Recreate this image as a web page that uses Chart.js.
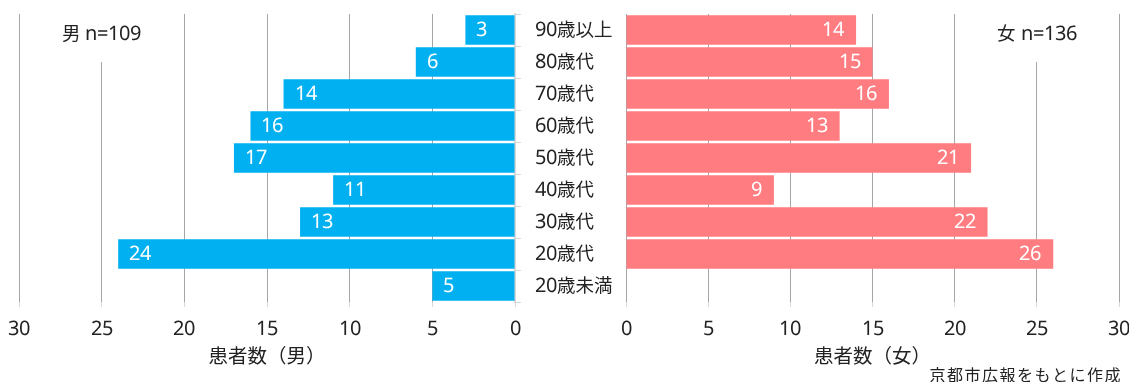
<!DOCTYPE html>
<html lang="ja">
<head>
<meta charset="utf-8">
<script src="https://cdn.jsdelivr.net/npm/chart.js@4.4.1/dist/chart.umd.min.js"></script>
<style>
  @font-face {
    font-family: 'MixLatin';
    src: local('Noto Sans'), local('Noto Sans Regular'), local('NotoSans-Regular');
    size-adjust: 108%;
  }
  html, body { margin: 0; padding: 0; background: #fff; }
  body { width: 1129px; height: 382px; position: relative; overflow: hidden; }
  .box { position: absolute; top: 0; height: 382px; }
  #leftBox { left: 0; width: 626px; }
  #rightBox { left: 600px; width: 541px; }
</style>
</head>
<body>
<div class="box" id="leftBox"><canvas id="maleChart"></canvas></div>
<div class="box" id="rightBox"><canvas id="femaleChart"></canvas></div>
<script>
const ageGroups = ['90歳以上', '80歳代', '70歳代', '60歳代', '50歳代', '40歳代', '30歳代', '20歳代', '20歳未満'];
const maleCounts = [3, 6, 14, 16, 17, 11, 13, 24, 5];
const femaleCounts = [14, 15, 16, 13, 21, 9, 22, 26, 0];
const axisTicks = [0, 5, 10, 15, 20, 25, 30];
const maleTitle = '患者数（男）';
const femaleTitle = '患者数（女）';
const maleNote = '男 n=109';
const femaleNote = '女 n=136';
const sourceNote = '京都市広報をもとに作成';

const FONT = '"MixLatin", "Noto Sans CJK JP", sans-serif';
const SIZE = 18.5;
const TEXT = '#222222';
const GRID = '#a6a6a6';
const LIGHT = '#d9d9d9';

// value labels inside the bar ends
const barValues = {
  id: 'barValues',
  afterDatasetsDraw(chart, args, opts) {
    const ctx = chart.ctx;
    const meta = chart.getDatasetMeta(0);
    const values = chart.data.datasets[0].data;
    ctx.save();
    ctx.font = SIZE + 'px ' + FONT;
    ctx.fillStyle = '#ffffff';
    ctx.textBaseline = 'middle';
    ctx.textAlign = opts.side;
    meta.data.forEach((bar, i) => {
      if (!values[i]) return;
      const x = opts.side === 'left' ? bar.x + 11 : bar.x - 12;
      ctx.fillText(String(values[i]), x, bar.y);
    });
    ctx.restore();
  }
};

// "n=" note with white box over the gridline, plus the source line
const notes = {
  id: 'notes',
  afterDatasetsDraw(chart, args, opts) {
    const ctx = chart.ctx;
    const x = chart.scales.x.getPixelForValue(opts.at);
    const top = chart.chartArea.top;
    ctx.save();
    ctx.fillStyle = '#ffffff';
    ctx.fillRect(x - 52, top - 1, 104, 49);
    ctx.font = SIZE + 'px ' + FONT;
    ctx.fillStyle = TEXT;
    ctx.textBaseline = 'middle';
    ctx.textAlign = 'center';
    ctx.fillText(opts.text, x, 34);
    if (opts.source) {
      ctx.font = '16px "Noto Sans CJK JP", sans-serif';
      if ('letterSpacing' in ctx) ctx.letterSpacing = '1.5px';
      ctx.textAlign = 'right';
      ctx.fillText(opts.source, chart.chartArea.right + 3, 375);
    }
    ctx.restore();
  }
};

function xScale(reverse, title) {
  return {
    type: 'linear',
    reverse: reverse,
    min: 0,
    max: 30,
    afterBuildTicks: (s) => { s.ticks = axisTicks.map(v => ({ value: v })); },
    afterFit: (s) => { s.height = 80; },
    ticks: { padding: 11, color: TEXT, font: { size: SIZE } },
    grid: {
      color: (c) => (reverse && c.tick && c.tick.value === 0) ? 'rgba(0,0,0,0)' : GRID,
      lineWidth: 1,
      tickColor: LIGHT,
      tickLength: 5
    },
    border: { display: false },
    title: {
      display: true,
      text: title,
      color: TEXT,
      font: { size: 19.5 },
      padding: { top: 0, bottom: 13.3 }
    }
  };
}

function draw() {
  Chart.defaults.font.family = FONT;
  Chart.defaults.font.size = SIZE;
  Chart.defaults.color = TEXT;

  new Chart(document.getElementById('maleChart'), {
    type: 'bar',
    data: {
      labels: ageGroups,
      datasets: [{
        label: '男',
        data: maleCounts,
        backgroundColor: '#00b0f0',
        borderWidth: 0,
        barPercentage: 0.92,
        categoryPercentage: 1
      }]
    },
    options: {
      indexAxis: 'y',
      responsive: true,
      maintainAspectRatio: false,
      animation: false,
      layout: { padding: { left: 19, right: 0, top: 14, bottom: 0 } },
      plugins: {
        legend: { display: false },
        tooltip: { enabled: false },
        barValues: { side: 'left' },
        notes: { at: 25, text: maleNote }
      },
      scales: {
        x: xScale(true, maleTitle),
        y: {
          position: 'right',
          afterFit: (s) => { s.width = 111; s.paddingTop = 0; s.paddingBottom = 0; },
          ticks: { crossAlign: 'near', padding: 14, color: TEXT, font: { size: SIZE } },
          grid: { drawOnChartArea: false, drawTicks: true, tickLength: 6, color: LIGHT },
          border: { display: true, color: LIGHT, width: 2 }
        }
      }
    },
    plugins: [barValues, notes]
  });

  new Chart(document.getElementById('femaleChart'), {
    type: 'bar',
    data: {
      labels: ageGroups,
      datasets: [{
        label: '女',
        data: femaleCounts,
        backgroundColor: '#ff7c80',
        borderWidth: 0,
        barPercentage: 0.92,
        categoryPercentage: 1
      }]
    },
    options: {
      indexAxis: 'y',
      responsive: true,
      maintainAspectRatio: false,
      animation: false,
      layout: { padding: { left: 26, right: 11, top: 14, bottom: 0 } },
      plugins: {
        legend: { display: false },
        tooltip: { enabled: false },
        barValues: { side: 'right' },
        notes: { at: 25, text: femaleNote, source: sourceNote }
      },
      scales: {
        x: xScale(false, femaleTitle),
        y: { display: false }
      }
    },
    plugins: [barValues, notes]
  });
}

Promise.all([
  document.fonts.load(SIZE + 'px MixLatin', '0123456789n='),
  document.fonts.load(SIZE + 'px "Noto Sans CJK JP"', '患者数歳代')
]).catch(() => {}).then(draw);
</script>
</body>
</html>
